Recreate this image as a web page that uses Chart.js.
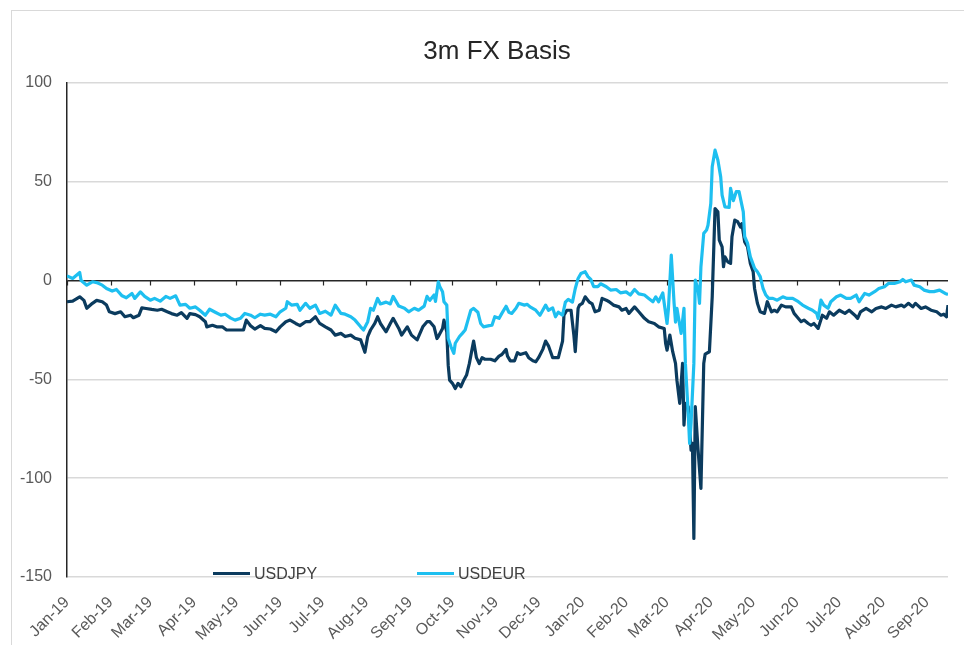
<!DOCTYPE html>
<html><head><meta charset="utf-8">
<script src="https://cdn.jsdelivr.net/npm/chart.js@4.4.1/dist/chart.umd.min.js"></script>
<style>
html,body{margin:0;padding:0;background:#fff;overflow:hidden;}
#wrap{position:relative;width:964px;height:645px;overflow:hidden;}
#frame{position:absolute;left:11px;top:10px;width:1000px;height:700px;border:1px solid #d9d9d9;box-sizing:border-box;}
canvas{position:absolute;left:0;top:0;}
#title{position:absolute;left:0;width:994px;top:35px;line-height:30px;text-align:center;font:26px "Liberation Sans",Arial,sans-serif;color:#262626;white-space:nowrap;}
.lg{position:absolute;font:16px "Liberation Sans",Arial,sans-serif;color:#404040;line-height:16px;white-space:nowrap;}
.sw{position:absolute;height:3px;}
</style></head>
<body><div id="wrap"><div id="frame"></div><canvas id="c" width="964" height="645"></canvas><div id="title"></div><div id="legend"></div></div>
<script>
const chartTitle = '3m FX Basis';
const seriesNames = ['USDJPY', 'USDEUR'];
const seriesColors = ['#0b3b5e', '#1ebff0'];

const tickDates = ['2019-01-01','2019-02-01','2019-03-01','2019-04-01','2019-05-01','2019-06-01','2019-07-01','2019-08-01','2019-09-01','2019-10-01','2019-11-01','2019-12-01',
  '2020-01-01','2020-02-01','2020-03-01','2020-04-01','2020-05-01','2020-06-01','2020-07-01','2020-08-01','2020-09-01'];
const tickLabels = ['Jan-19','Feb-19','Mar-19','Apr-19','May-19','Jun-19','Jul-19','Aug-19','Sep-19','Oct-19','Nov-19','Dec-19',
  'Jan-20','Feb-20','Mar-20','Apr-20','May-20','Jun-20','Jul-20','Aug-20','Sep-20'];
const yTicks = [100, 50, 0, -50, -100, -150];

const jpyDates = [
'2019-01-01','2019-01-05','2019-01-10','2019-01-13','2019-01-15','2019-01-19','2019-01-22','2019-01-26','2019-01-29','2019-01-31',
'2019-02-04','2019-02-08','2019-02-11','2019-02-15','2019-02-17','2019-02-21','2019-02-23','2019-02-26',
'2019-03-02','2019-03-06','2019-03-09','2019-03-13','2019-03-16','2019-03-20','2019-03-23','2019-03-27','2019-03-29',
'2019-04-02','2019-04-05','2019-04-09','2019-04-10','2019-04-14','2019-04-17','2019-04-21','2019-04-24','2019-04-28',
'2019-05-01','2019-05-06','2019-05-08','2019-05-11','2019-05-14','2019-05-18','2019-05-21','2019-05-25','2019-05-29',
'2019-06-01','2019-06-05','2019-06-08','2019-06-12','2019-06-15','2019-06-19','2019-06-22','2019-06-26','2019-06-29',
'2019-07-03','2019-07-07','2019-07-10','2019-07-14','2019-07-17','2019-07-21','2019-07-24','2019-07-28','2019-07-31',
'2019-08-02','2019-08-04','2019-08-07','2019-08-09','2019-08-11','2019-08-15','2019-08-18','2019-08-20','2019-08-24','2019-08-26','2019-08-30',
'2019-09-02','2019-09-06','2019-09-10','2019-09-13','2019-09-15','2019-09-18','2019-09-20','2019-09-21','2019-09-24','2019-09-25','2019-09-27','2019-09-28','2019-09-29',
'2019-10-01','2019-10-03','2019-10-05','2019-10-07','2019-10-09','2019-10-11','2019-10-13','2019-10-15','2019-10-16','2019-10-18','2019-10-20','2019-10-22','2019-10-24','2019-10-28','2019-10-31',
'2019-11-03','2019-11-05','2019-11-08','2019-11-09','2019-11-11','2019-11-14','2019-11-16','2019-11-18','2019-11-22','2019-11-24','2019-11-27','2019-11-29',
'2019-12-01','2019-12-04','2019-12-06','2019-12-08','2019-12-11','2019-12-13','2019-12-15','2019-12-18','2019-12-19','2019-12-21','2019-12-24','2019-12-26','2019-12-27','2019-12-29','2019-12-30',
'2020-01-01','2020-01-03','2020-01-06','2020-01-08','2020-01-10','2020-01-13','2020-01-15','2020-01-18','2020-01-20','2020-01-23','2020-01-27','2020-01-29',
'2020-02-01','2020-02-03','2020-02-07','2020-02-10','2020-02-14','2020-02-17','2020-02-21','2020-02-24','2020-02-28','2020-02-29',
'2020-03-01','2020-03-03','2020-03-05','2020-03-07','2020-03-08','2020-03-10','2020-03-12','2020-03-13','2020-03-14','2020-03-16','2020-03-18','2020-03-19','2020-03-20','2020-03-21','2020-03-23','2020-03-25','2020-03-27','2020-03-28','2020-03-31',
'2020-04-02','2020-04-04','2020-04-06','2020-04-07','2020-04-09','2020-04-10','2020-04-11','2020-04-13','2020-04-15','2020-04-16','2020-04-18','2020-04-20','2020-04-22','2020-04-23','2020-04-25','2020-04-27','2020-04-29',
'2020-05-01','2020-05-02','2020-05-04','2020-05-06','2020-05-09','2020-05-11','2020-05-14','2020-05-16','2020-05-18','2020-05-21','2020-05-24','2020-05-28','2020-05-30',
'2020-06-01','2020-06-04','2020-06-06','2020-06-09','2020-06-11','2020-06-13','2020-06-16','2020-06-19','2020-06-22','2020-06-24','2020-06-27',
'2020-07-01','2020-07-05','2020-07-08','2020-07-12','2020-07-14','2020-07-16','2020-07-20','2020-07-24','2020-07-27','2020-07-31',
'2020-08-03','2020-08-07','2020-08-10','2020-08-14','2020-08-16','2020-08-19','2020-08-22','2020-08-24','2020-08-28','2020-08-31',
'2020-09-04','2020-09-08','2020-09-11','2020-09-13','2020-09-15','2020-09-16'];
const jpyValues = [
-10.7,-10.4,-8.2,-10,-14,-11.5,-10,-10.7,-12.4,-15.8,
-16.7,-15.8,-18.3,-17.5,-18.8,-17.5,-13.8,-14.1,
-14.6,-15,-14.5,-15.8,-16.7,-17.5,-16.2,-19.1,-16.7,
-17.2,-18.3,-20.8,-23.4,-22.6,-23.4,-23.4,-25,-25,
-25,-25,-20,-22.8,-24.5,-22.8,-24.2,-24.5,-25.9,
-23.4,-20.8,-20,-21.7,-22.8,-20.8,-20.8,-18.3,-21.7,
-23.4,-25,-27.6,-26.7,-28.3,-27.6,-29.2,-30,-36.3,
-28.3,-25,-21.7,-18.3,-21.7,-25.9,-21.7,-19.1,-24.2,-27.6,-23.4,
-27.6,-30,-23.4,-20.8,-20.8,-23.4,-29.3,-28.3,-24.2,-20,-26,-42.8,-50.4,
-52,-54.6,-52,-53.7,-50.4,-47.8,-41.9,-34.3,-30.6,-39,-42,-39,-39.8,-39.8,-40.6,
-38.2,-37.4,-34.8,-38.2,-40.6,-40.6,-36.5,-37.4,-36.5,-39,-40.6,-41.1,
-39,-34.8,-30.6,-33,-39,-39,-39,-30.6,-17.5,-15,-15,-27.6,-36,-14.1,-12.4,
-11.5,-8.2,-10.9,-11.8,-15.8,-15,-9,-9.9,-10.7,-12.4,-13.3,-15,
-14.1,-16.6,-13.3,-15.8,-19.1,-20.8,-21.7,-23.4,-24.2,-31.8,
-35.2,-27.6,-36,-41.9,-50.4,-62.1,-41.9,-73.1,-62.1,-63.8,-85.8,-82.4,-130.5,-63.8,-85.8,-105.2,-41.9,-37.2,-36,
-8.2,36.5,34.8,20.5,17.1,7,12,9.5,8.7,22.2,30.6,29.8,27.1,28.8,19.6,17.1,8.7,
4.5,-4,-11.5,-15.8,-16.6,-10.7,-15.8,-15,-15.8,-12.4,-13.3,-13.3,-16.6,
-18.3,-20.8,-20,-21.7,-22.6,-21.7,-24.2,-17.5,-19.1,-15.8,-17.5,
-15,-16.6,-15,-17.5,-19.1,-15.8,-14.1,-15.8,-14.1,-13.3,
-14.1,-12.4,-13.3,-12.4,-13.3,-11.5,-13.3,-11.5,-14.1,-13.3,
-15,-15.8,-17.5,-17,-18.3,-12.4];

const eurDates = [
'2019-01-01','2019-01-05','2019-01-10','2019-01-11','2019-01-15','2019-01-19','2019-01-22','2019-01-26','2019-01-29',
'2019-02-02','2019-02-05','2019-02-09','2019-02-12','2019-02-16','2019-02-18','2019-02-22','2019-02-25',
'2019-03-01','2019-03-04','2019-03-08','2019-03-12','2019-03-15','2019-03-19','2019-03-22','2019-03-26','2019-03-29',
'2019-04-02','2019-04-05','2019-04-09','2019-04-12','2019-04-16','2019-04-20','2019-04-23','2019-04-27','2019-04-30',
'2019-05-04','2019-05-07','2019-05-11','2019-05-14','2019-05-18','2019-05-21','2019-05-25','2019-05-29',
'2019-06-01','2019-06-05','2019-06-06','2019-06-09','2019-06-13','2019-06-15','2019-06-19','2019-06-22','2019-06-26','2019-06-29',
'2019-07-03','2019-07-07','2019-07-10','2019-07-14','2019-07-17','2019-07-21','2019-07-24','2019-07-28','2019-07-30',
'2019-08-02','2019-08-04','2019-08-06','2019-08-09','2019-08-11','2019-08-15','2019-08-18','2019-08-20','2019-08-24','2019-08-28','2019-08-31',
'2019-09-04','2019-09-07','2019-09-11','2019-09-13','2019-09-15','2019-09-18','2019-09-19','2019-09-21','2019-09-22','2019-09-24','2019-09-25','2019-09-27','2019-09-28','2019-09-30',
'2019-10-02','2019-10-03','2019-10-06','2019-10-08','2019-10-10','2019-10-12','2019-10-14','2019-10-16','2019-10-19','2019-10-21','2019-10-23','2019-10-27','2019-10-29','2019-10-31',
'2019-11-03','2019-11-05','2019-11-08','2019-11-10','2019-11-12','2019-11-15','2019-11-17','2019-11-21','2019-11-23','2019-11-25','2019-11-29',
'2019-12-02','2019-12-06','2019-12-08','2019-12-11','2019-12-13','2019-12-15','2019-12-18','2019-12-20','2019-12-22','2019-12-25','2019-12-27','2019-12-29','2019-12-31',
'2020-01-03','2020-01-05','2020-01-07','2020-01-09','2020-01-12','2020-01-14','2020-01-18','2020-01-21','2020-01-25','2020-01-28',
'2020-02-01','2020-02-04','2020-02-07','2020-02-10','2020-02-14','2020-02-17','2020-02-20','2020-02-22','2020-02-24','2020-02-27','2020-02-28',
'2020-03-01','2020-03-02','2020-03-04','2020-03-06','2020-03-07','2020-03-08','2020-03-09','2020-03-11','2020-03-13','2020-03-14','2020-03-16','2020-03-17','2020-03-18','2020-03-20','2020-03-21','2020-03-23','2020-03-24','2020-03-25','2020-03-27','2020-03-29','2020-03-30',
'2020-04-01','2020-04-02','2020-04-04','2020-04-06','2020-04-08','2020-04-09','2020-04-11','2020-04-14','2020-04-15','2020-04-17','2020-04-19','2020-04-21','2020-04-24','2020-04-25','2020-04-27','2020-04-29',
'2020-05-02','2020-05-04','2020-05-06','2020-05-08','2020-05-10','2020-05-12','2020-05-15','2020-05-18','2020-05-22','2020-05-25','2020-05-29',
'2020-06-02','2020-06-05','2020-06-09','2020-06-12','2020-06-15','2020-06-16','2020-06-18','2020-06-20','2020-06-23','2020-06-25','2020-06-29',
'2020-07-02','2020-07-06','2020-07-09','2020-07-13','2020-07-15','2020-07-19','2020-07-22','2020-07-26','2020-07-29',
'2020-08-02','2020-08-05','2020-08-09','2020-08-13','2020-08-15','2020-08-17','2020-08-21','2020-08-23','2020-08-27','2020-08-30',
'2020-09-03','2020-09-06','2020-09-10','2020-09-14','2020-09-16'];
const eurValues = [
2.4,1.1,4.1,0,-2.3,-0.6,-1,-2.3,-4,
-5.3,-4.5,-7.7,-8.7,-6.5,-9,-5.7,-8,
-9.9,-9,-10.4,-8,-9,-7.7,-12.4,-12,-14,
-13.3,-15,-17.5,-14.5,-16,-17.5,-17,-19,-20,
-19,-16.6,-17.5,-18.8,-17,-17.5,-17,-18.3,
-15.8,-14,-10.7,-12.4,-12,-15,-11.5,-14,-12.4,-16.6,
-15.5,-17.5,-12.4,-16.6,-17,-18.3,-20,-23.4,-25,
-20.8,-14,-15,-9,-11.8,-10.9,-11.8,-8,-12.9,-14,-15.8,
-14,-15,-12.9,-8,-10,-7.3,-10.5,-0.6,-3,-5.6,-10.7,-12.4,-29.3,-33.5,
-36.8,-31.7,-28.3,-26.7,-25,-20,-15,-14.1,-16,-21.7,-23.4,-22.8,-22.6,-18.3,
-19.1,-16.6,-13,-16,-16.6,-14,-11.5,-12.4,-12,-13.3,-15,
-17.5,-12.4,-15,-13.8,-18.3,-16,-17.5,-10.9,-9.5,-10.9,-4,1.1,3.6,
4.5,2,0.6,-3,-3,-1.6,-3.1,-4.8,-4.5,-6.2,
-5.7,-7.3,-4.5,-6.7,-7.3,-9,-10.7,-8.2,-10.7,-6.2,-11.5,
-21.7,-14,12.9,-11.5,-21,-14,-18.3,-26.7,-14,-41.9,-67.2,-82.4,-72.3,-41.9,0.3,-4.6,-11.5,7,23.9,25.6,28,
39,57.6,66,61,52.5,43.3,37.3,37,46.7,40.5,45,45,34.8,22.2,19,12,
6.2,4.5,2,-4,-7.3,-9,-9,-9.9,-8.2,-9,-9,
-10.7,-12.4,-14,-15,-16.6,-19.1,-9.9,-12.4,-14,-10.7,-8.2,
-7.3,-9,-9,-7.3,-10.7,-6.5,-7.3,-5.6,-4,
-3.1,-1.4,-1.4,-0.6,0.6,-0.6,0.3,-2.3,-3.1,-4.8,
-5.6,-5.6,-4.8,-6.5,-7];

const FONT = '"Liberation Sans", Arial, sans-serif';
function dayNum(s){ const p = s.split('-').map(Number); return (Date.UTC(p[0],p[1]-1,p[2]) - Date.UTC(2019,0,1)) / 86400000; }
function pts(dates, vals){ return dates.map((d,i)=>({x: dayNum(d), y: vals[i]})); }

const xMin = dayNum(tickDates[0]);
const xMax = Math.max(dayNum(jpyDates[jpyDates.length-1]), dayNum(eurDates[eurDates.length-1]));

document.getElementById('title').textContent = chartTitle;

const tickMarks = {
  id: 'tickMarks',
  beforeDatasetsDraw(chart){
    const c = chart.ctx, xs = chart.scales.x, ys = chart.scales.y;
    const y0 = ys.getPixelForValue(0);
    c.save(); c.strokeStyle = '#262626'; c.lineWidth = 1.2; c.beginPath();
    tickDates.forEach(d => { const x = Math.round(xs.getPixelForValue(dayNum(d))) + 0.5; c.moveTo(x, y0); c.lineTo(x, y0 + 5); });
    c.stroke(); c.restore();
  }
};

new Chart(document.getElementById('c'), {
  type: 'line',
  data: { datasets: [
    { label: seriesNames[0], data: pts(jpyDates, jpyValues), borderColor: seriesColors[0], borderWidth: 3.2, pointRadius: 0, tension: 0, order: 1, borderJoinStyle: 'round' },
    { label: seriesNames[1], data: pts(eurDates, eurValues), borderColor: seriesColors[1], borderWidth: 3.2, pointRadius: 0, tension: 0, order: 0, borderJoinStyle: 'round' }
  ]},
  options: {
    responsive: false, animation: false, devicePixelRatio: 1,
    layout: { padding: { left: 0, right: 16, top: 83, bottom: 0 } },
    plugins: { legend: { display: false }, tooltip: { enabled: false }, title: { display: false } },
    scales: {
      x: {
        type: 'linear', min: xMin, max: xMax,
        grid: { display: false }, border: { display: false },
        afterBuildTicks: s => { s.ticks = tickDates.map(d => ({ value: dayNum(d) })); },
        afterFit: s => { s.height = 68; },
        ticks: { autoSkip: false, minRotation: 45, maxRotation: 45, padding: 8, color: '#595959',
          font: { family: FONT, size: 16 }, callback: (v, i) => tickLabels[i] }
      },
      y: {
        min: -150, max: 100,
        afterBuildTicks: s => { s.ticks = yTicks.map(v => ({ value: v })); },
        afterFit: s => { s.width = 67; },
        ticks: { padding: 15, color: '#595959', font: { family: FONT, size: 16 } },
        grid: { drawTicks: false, lineWidth: 1.5, color: c => (c.tick && c.tick.value === 0) ? '#262626' : '#d9d9d9' },
        border: { display: true, color: '#262626', width: 1.5 }
      }
    }
  },
  plugins: [tickMarks]
});

// legend
const lg = document.getElementById('legend');
const legendPos = [213, 417];
seriesNames.forEach((n, i) => {
  const sw = document.createElement('div'); sw.className = 'sw';
  sw.style.left = legendPos[i] + 'px'; sw.style.top = '572px'; sw.style.width = '37px'; sw.style.background = seriesColors[i];
  const t = document.createElement('div'); t.className = 'lg'; t.textContent = n;
  t.style.left = (legendPos[i] + 41) + 'px'; t.style.top = '566px';
  lg.appendChild(sw); lg.appendChild(t);
});
</script>
</body></html>
